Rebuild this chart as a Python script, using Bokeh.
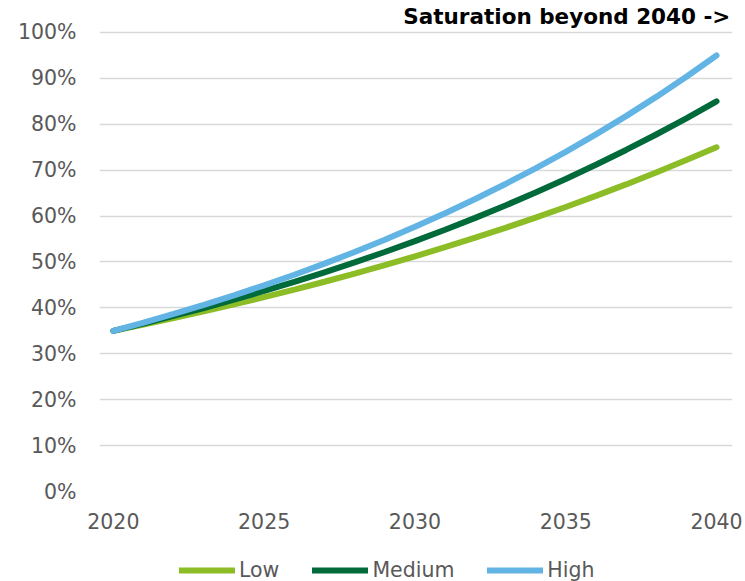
from bokeh.plotting import figure
from bokeh.layouts import column
from bokeh.models import Range1d, Legend, LegendItem, Label, NumeralTickFormatter, FixedTicker
from bokeh.embed import file_html
from bokeh.resources import INLINE

years = list(range(2020, 2041))
low = [35.0, 36.36, 37.77, 39.24, 40.76, 42.35, 43.99, 45.70, 47.48, 49.32, 51.23,
       53.23, 55.29, 57.44, 59.67, 61.99, 64.40, 66.90, 69.50, 72.20, 75.0]
medium = [35.0, 36.59, 38.25, 39.98, 41.80, 43.69, 45.68, 47.75, 49.91, 52.18, 54.54,
          57.02, 59.61, 62.31, 65.14, 68.09, 71.18, 74.41, 77.78, 81.31, 85.0]
high = [35.0, 36.79, 38.68, 40.66, 42.74, 44.92, 47.22, 49.64, 52.18, 54.85, 57.66,
        60.61, 63.72, 66.98, 70.41, 74.01, 77.80, 81.78, 85.97, 90.37, 95.0]
series_names = ["Low", "Medium", "High"]
colors = ["#8cbd27", "#006a3a", "#62b4e4"]
x_ticks = [2020, 2025, 2030, 2035, 2040]
y_ticks = [i / 10 for i in range(11)]
title_text = "Saturation beyond 2040 ->"

FONT = "DejaVu Sans"
GREY = "#595959"

# main chart: frame spans the full top so the headline text sits inside it
p = figure(width=745, height=537, output_backend="svg", toolbar_location=None,
           x_range=Range1d(2019.54, 2040.53), y_range=Range1d(0, 1.0697),
           min_border_left=99, min_border_right=13, min_border_top=0, min_border_bottom=46)
p.outline_line_color = None
p.background_fill_color = "white"

p.xgrid.grid_line_color = None
p.ygrid.grid_line_color = "#d9d9d9"
p.ygrid.grid_line_width = 1.5

p.yaxis.ticker = FixedTicker(ticks=y_ticks)
p.xaxis.ticker = FixedTicker(ticks=x_ticks)
p.yaxis.formatter = NumeralTickFormatter(format="0%")
for ax in (p.xaxis, p.yaxis):
    ax.axis_line_color = None
    ax.major_tick_line_color = None
    ax.minor_tick_line_color = None
    ax.major_label_text_font = FONT
    ax.major_label_text_font_size = "20.5px"
    ax.major_label_text_color = GREY
p.yaxis.major_label_standoff = 17
p.xaxis.major_label_standoff = 15

for name, vals, c in zip(series_names, [low, medium, high], colors):
    p.line(years, [v / 100 for v in vals], line_color=c, line_width=6, line_cap="round")

lab = Label(x=2040.46, y=1.0349, text=title_text, text_align="right", text_baseline="middle",
            text_font=FONT, text_font_style="bold", text_font_size="21.5px", text_color="black")
p.add_layout(lab)

# legend strip below the chart (its frame is aligned with the chart's frame)
lg = figure(width=745, height=44, output_backend="svg", toolbar_location=None,
            x_axis_type=None, y_axis_type=None, x_range=Range1d(0, 1), y_range=Range1d(0, 1),
            min_border_left=99, min_border_right=13, min_border_top=0, min_border_bottom=0)
lg.outline_line_color = None
lg.xgrid.grid_line_color = None
lg.ygrid.grid_line_color = None
items = []
for name, c in zip(series_names, colors):
    # legend proxy placed outside the visible range
    r = lg.line(x=[-2, -1], y=[-2, -2], line_color=c, line_width=6, line_cap="round")
    items.append(LegendItem(label=name, renderers=[r]))
legend = Legend(items=items, orientation="horizontal", location=(80, -1),
                border_line_color=None, background_fill_alpha=0,
                label_text_font=FONT, label_text_font_size="20.5px", label_text_color=GREY,
                glyph_width=56, glyph_height=20, label_height=20, label_standoff=4, spacing=33,
                padding=0, margin=0)
lg.add_layout(legend)

layout = column(p, lg, spacing=0)
open("out.html", "w").write(file_html(layout, INLINE))
